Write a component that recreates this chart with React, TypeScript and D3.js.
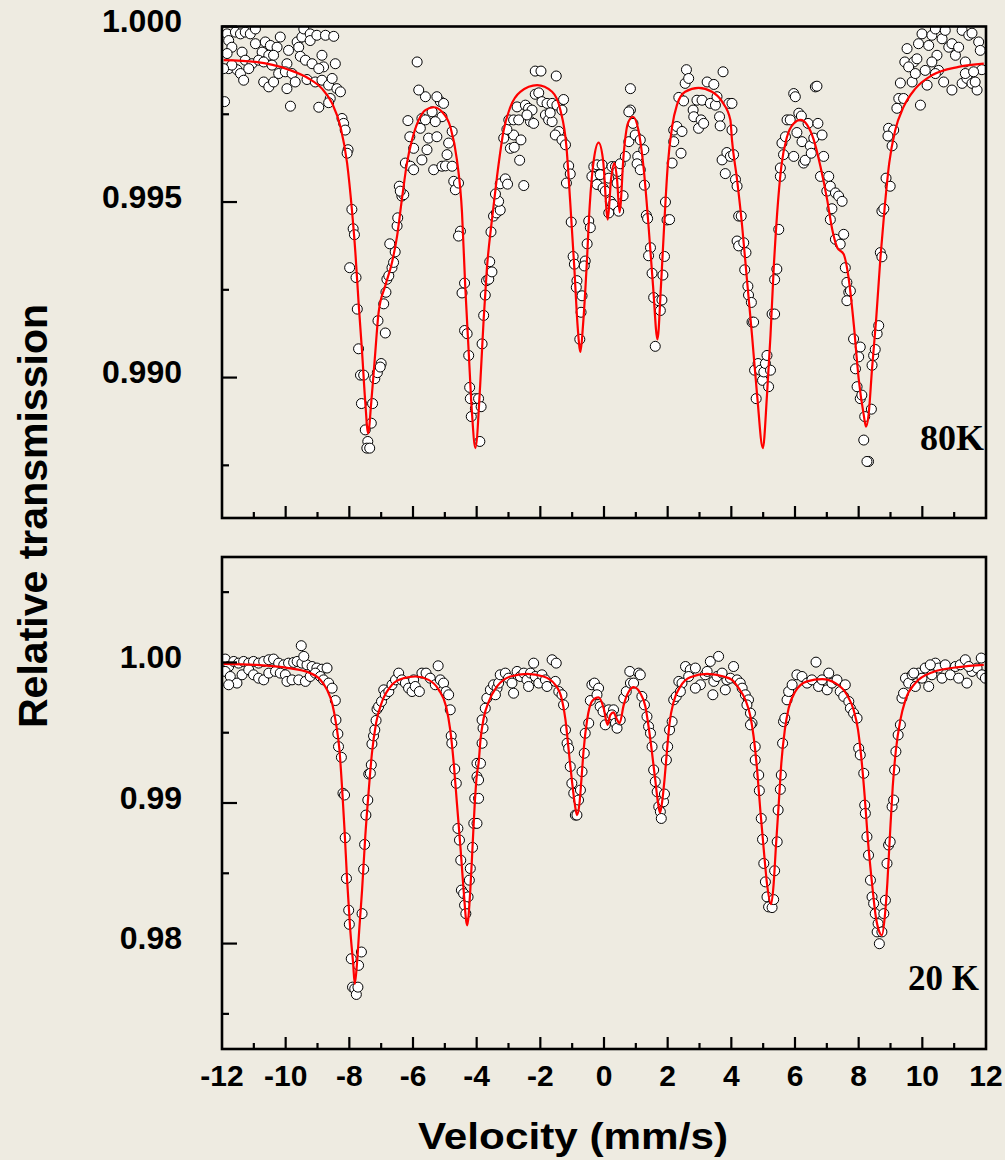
import React from 'react';
import * as d3 from 'd3';

// ---------- DATA ----------
// 80 K spectrum: measured points [velocity mm/s, relative transmission]
const points80K: [number, number][] = [
[-11.84,0.99979],[-11.58,0.99984],[-11.42,0.99979],[-11.27,0.99984],[-11.11,0.99979],[-10.95,0.99993],[-11.79,0.9996],[-11.69,0.99941],[-11.84,0.99923],[-11.37,0.99927],[-10.95,0.99951],[-10.64,0.99956],[-10.48,0.99946],[-10.27,0.99941],[-10.74,0.99927],[-10.53,0.99918],[-10.38,0.99918],[-10.17,0.9997],[-9.91,0.99932],[-9.64,0.99956],[-9.49,0.9997],[-9.43,0.99993],[-9.23,0.99979],[-9.23,0.9996],[-9.02,0.99975],[-8.75,0.99975],[-8.49,0.99972],[-9.59,0.99941],[-9.54,0.99915],[-9.38,0.99904],[-9.17,0.99894],[-8.86,0.99918],[-8.81,0.99885],[-8.96,0.9988],[-8.44,0.99894],[-11.27,0.99904],[-11.06,0.99894],[-10.85,0.99904],[-10.69,0.99899],[-10.43,0.9989],[-9.96,0.99894],[-11.79,0.9988],[-11.53,0.99877],[-11.42,0.99866],[-11.32,0.99847],[-11.16,0.9988],[-10.69,0.99842],[-10.53,0.99828],[-10.38,0.99842],[-10.22,0.99866],[-10.01,0.99871],[-9.8,0.99866],[-9.7,0.99842],[-9.96,0.99823],[-9.33,0.99849],[-9.07,0.99842],[-8.86,0.99847],[-8.65,0.99833],[-8.54,0.99852],[-8.39,0.99823],[-8.28,0.99814],[-8.6,0.99795],[-8.65,0.99783],[-8.96,0.9977],[-9.85,0.99773],[-11.92,0.99786],[-11.69,0.9989],[-11.95,0.9988],
[-8.23,0.99738],[-8.18,0.99724],[-8.13,0.99705],[-8.04,0.99649],[-8.07,0.99639],[-7.92,0.99479],[-7.88,0.99424],[-7.84,0.99407],[-7.99,0.99313],[-7.79,0.99285],[-7.75,0.99195],[-7.71,0.99082],[-7.65,0.99007],[-7.55,0.99007],[-7.62,0.98926],[-7.27,0.98926],[-7.5,0.98851],[-7.31,0.9887],[-7.42,0.98818],[-7.45,0.98799],[-7.36,0.98799],[-7.2,0.98997],[-7.12,0.99014],[-7.0,0.9904],[-7.03,0.9903],[-6.87,0.99127],[-7.1,0.99162],[-6.92,0.9921],[-6.85,0.99243],[-6.82,0.9928],[-6.76,0.9929],[-6.66,0.99313],[-6.61,0.99328],[-6.56,0.99358],[-6.73,0.99381],[-6.5,0.99432],[-6.48,0.99455],[-6.35,0.99517],[-6.29,0.99521],[-6.43,0.99545],[-6.4,0.99531],[-6.24,0.99611],[-6.08,0.99602],[-5.98,0.99592],[-6.1,0.99686],[-5.98,0.99653],[-6.16,0.99732],[-5.72,0.9962],[-5.77,0.9971],[-5.51,0.99682],[-5.56,0.99649],[-5.25,0.99686],[-5.35,0.99592],[-5.09,0.99602],[-4.98,0.99603],[-4.77,0.99602],[-4.93,0.99635],[-4.88,0.99668],[-4.77,0.99701],[-5.09,0.99743],[-5.3,0.99729],[-5.14,0.99786],[-5.04,0.99781],[-5.25,0.998],[-5.4,0.99757],[-5.61,0.998],[-5.82,0.99819],[-5.87,0.99899],[-5.72,0.99738],[-5.61,0.99734],[-4.72,0.99559],[-4.67,0.99535],[-4.57,0.99554],[-4.51,0.99417],[-4.57,0.99403],[-4.38,0.99269],[-4.46,0.99241],[-4.38,0.99134],[-4.3,0.99125],[-4.25,0.99063],[-4.22,0.98972],[-4.2,0.9894],[-4.17,0.98889],[-4.04,0.9894],[-4.04,0.98912],
[-3.94,0.9894],[-3.86,0.98917],[-3.9,0.98818],[-3.83,0.99096],[-3.78,0.99177],[-3.73,0.99235],[-3.69,0.99276],[-3.62,0.9928],[-3.59,0.9933],[-3.52,0.99301],[-3.55,0.99415],[-3.47,0.9946],[-3.38,0.99469],[-3.26,0.99477],[-3.31,0.99502],[-3.41,0.99523],[-3.26,0.99552],[-3.1,0.99566],[-3.03,0.99551],[-2.52,0.99547],[-2.65,0.99619],[-3.15,0.99682],[-2.94,0.99653],[-2.82,0.99656],[-2.84,0.99691],[-2.61,0.99677],[-3.05,0.99707],[-2.99,0.99734],[-2.84,0.99734],[-2.68,0.99734],[-2.73,0.99771],[-2.47,0.99776],[-2.37,0.99767],[-2.26,0.99762],[-2.31,0.99729],[-2.21,0.99724],[-2.42,0.99748],[-2.16,0.99807],[-2.05,0.99811],[-2.16,0.99873],[-1.98,0.99873],[-1.95,0.99786],[-1.79,0.99781],[-1.63,0.99781],[-1.48,0.99776],[-1.5,0.99859],[-1.27,0.99792],[-1.32,0.99762],[-1.84,0.99748],[-1.74,0.99734],[-1.63,0.99729],[-1.69,0.99754],[-1.42,0.99701],[-1.53,0.99691],[-1.32,0.99677],[-1.21,0.99663],[-1.11,0.99603],[-1.06,0.9958],[-1.18,0.99554],[-1.03,0.99443],[-0.97,0.99345],[-0.93,0.99323],[-0.85,0.99276],[-0.87,0.99257],[-0.69,0.99233],[-0.72,0.99186],[-0.76,0.99109],[-0.48,0.99446],[-0.43,0.99427],[-0.53,0.99381],[-0.59,0.99332],[-0.62,0.99318],[-0.38,0.99573],[-0.32,0.99601],[-0.22,0.99606],[-0.06,0.99606],[-0.12,0.99578],[-0.22,0.9955],[-0.03,0.9954],[0.04,0.99531],[0.15,0.99568],[0.2,0.99502],[0.28,0.99493],[0.15,0.99469],[0.25,0.99601],[0.36,0.99601],[0.43,0.99587],[0.41,0.99554],[0.46,0.99474],[0.6,0.99518],[0.51,0.99609],[0.67,0.9963],[0.78,0.99672],[0.83,0.99762],[0.78,0.99757],[0.83,0.99823],[0.91,0.99724],[0.98,0.99691],[1.06,0.9963],[1.04,0.99609],[1.14,0.99677],[1.14,0.99592],[1.25,0.99649],[1.27,0.99548],[1.33,0.99462],[1.37,0.99453],[1.46,0.9937],[1.4,0.99347],[1.51,0.99297],[1.56,0.99228],[1.72,0.99219],[1.77,0.99191],[1.82,0.99221],[1.61,0.99089],[1.85,0.99292],[1.9,0.99345],[1.93,0.995],[1.98,0.99449],[2.06,0.9945],[2.14,0.99611],[2.19,0.99672],[2.19,0.99705],[2.29,0.99715],[2.45,0.99701],[2.42,0.99639],[2.35,0.99798],[2.5,0.99788],[2.55,0.99838],[2.59,0.99877],[2.66,0.99852],[2.8,0.99762],[2.82,0.99743],[2.92,0.9979],[2.97,0.9971],[3.05,0.99734],[3.13,0.99724],[3.08,0.9979],[3.24,0.99842],[3.34,0.99781],[3.45,0.99835],[3.5,0.99776],[3.55,0.998],[3.74,0.99871],[3.63,0.99743],[3.65,0.99717],[3.71,0.9962],[3.81,0.99581],[3.86,0.99641],[3.92,0.99781],[3.97,0.9963],
[4.02,0.99781],[4.02,0.99705],[4.07,0.99635],[4.13,0.99564],[4.18,0.99545],[4.23,0.9946],[4.31,0.9946],[4.18,0.99389],[4.23,0.99375],[4.39,0.99384],[4.46,0.99356],[4.42,0.99307],[4.52,0.9926],[4.54,0.99235],[4.63,0.99214],[4.65,0.99158],[4.7,0.99158],[4.73,0.99021],[4.78,0.9894],[4.84,0.9904],[4.91,0.99021],[4.98,0.98992],[5.02,0.99016],[5.07,0.9904],[5.12,0.99063],[5.17,0.98974],[5.23,0.99021],[5.28,0.99181],[5.36,0.99181],[5.36,0.99279],[5.43,0.99309],[5.49,0.99422],[5.54,0.99573],[5.54,0.99597],[5.64,0.99635],[5.59,0.99668],[5.7,0.99686],[5.75,0.99734],[5.85,0.99734],[5.96,0.9963],[5.96,0.99809],[6.01,0.998],[6.06,0.99698],[6.12,0.99753],[6.2,0.99745],[6.22,0.99672],[6.27,0.99611],[6.32,0.99619],[6.41,0.99724],[6.48,0.9966],[6.51,0.99639],[6.59,0.99682],[6.64,0.99828],[6.69,0.9983],[6.72,0.99724],[6.8,0.99573],[6.85,0.99691],[6.9,0.9963],[7.0,0.99531],[7.06,0.99573],[7.11,0.99545],[7.16,0.99481],[7.11,0.9945],[7.27,0.99526],[7.37,0.99517],[7.48,0.99502],[7.27,0.99394],[7.42,0.9938],[7.53,0.99408],[7.58,0.99313],[7.63,0.99271],[7.69,0.99243],[7.74,0.99247],[7.63,0.99219],[7.84,0.9911],[8.05,0.99087],[8.0,0.99059],[7.9,0.99025],[7.95,0.98974],[8.05,0.9894],[8.1,0.9895],[8.19,0.98889],[8.16,0.98822],[8.31,0.98761],[8.26,0.98761],[8.4,0.9891],[8.42,0.99035],[8.47,0.99063],[8.52,0.9908],[8.58,0.99125],[8.63,0.99148],[8.68,0.99356],[8.73,0.99344],[8.73,0.99474],[8.79,0.99481],[8.86,0.99568],[8.99,0.99545],[9.05,0.9966],[8.94,0.9971],[9.1,0.99705],[8.92,0.99688],[9.2,0.99767],[9.26,0.99795],[9.41,0.99795],[9.31,0.99839],[9.45,0.99899],[9.52,0.99937],[9.73,0.99899],[9.57,0.99885],[9.68,0.99842],[9.78,0.99866],[9.94,0.99776],[10.15,0.99833],[9.88,0.99951],[9.99,0.99979],[10.2,0.99946],[10.3,0.99975],[10.41,0.99993],[10.62,0.99965],[10.72,0.99989],[10.83,0.99941],[10.93,0.99951],[11.04,0.99918],[11.14,0.99941],[11.25,0.99989],[11.35,0.99899],[11.46,0.99975],[11.56,0.99981],[11.77,0.99956],[11.82,0.99932],[10.93,0.99819],[10.67,0.99842],[11.25,0.99838],[11.4,0.99852],[11.56,0.99838],[11.72,0.99819],[11.66,0.99842],[11.35,0.99866],[11.87,0.99877],[11.61,0.99871],[10.46,0.99918],[10.51,0.99875],[10.3,0.99899],[10.09,0.99875],[9.83,0.99908],[10.41,0.99866]
];

// 80 K fitted curve
const fit80K: [number, number][] = [
[-11.95,0.99904],[-10.95,0.99899],[-9.9,0.99877],[-9.28,0.99852],[-8.86,0.99823],[-8.54,0.99781],[-8.28,0.99715],[-8.07,0.99611],[-7.92,0.99479],[-7.81,0.99356],[-7.71,0.99214],[-7.6,0.99073],[-7.5,0.98931],[-7.41,0.98841],[-7.31,0.98931],[-7.2,0.99054],[-7.08,0.99186],[-6.87,0.99262],[-6.66,0.99328],[-6.5,0.99403],[-6.35,0.99507],[-6.19,0.99611],[-6.03,0.99677],[-5.82,0.99734],[-5.61,0.99762],[-5.35,0.9977],[-5.09,0.99757],[-4.83,0.99715],[-4.62,0.9962],[-4.46,0.99469],[-4.36,0.99262],[-4.25,0.99073],[-4.15,0.98903],[-4.04,0.98799],[-3.89,0.98978],[-3.78,0.99167],[-3.68,0.99309],[-3.52,0.9945],[-3.36,0.99573],[-3.15,0.99705],[-2.94,0.99771],[-2.63,0.99814],[-2.1,0.99833],[-1.63,0.99814],[-1.37,0.99762],[-1.18,0.99658],[-1.06,0.99498],[-0.93,0.99309],[-0.83,0.99148],[-0.74,0.99073],[-0.66,0.99148],[-0.55,0.99309],[-0.45,0.99488],[-0.32,0.9962],[-0.17,0.99669],[-0.03,0.9962],[0.12,0.9945],[0.22,0.99564],[0.33,0.99611],[0.41,0.99564],[0.49,0.99471],[0.62,0.99639],[0.75,0.99724],[0.91,0.99743],[1.08,0.99705],[1.25,0.99592],[1.4,0.99431],[1.54,0.99262],[1.68,0.99109],[1.79,0.99262],[1.9,0.9945],[2.0,0.99601],[2.14,0.99715],[2.29,0.99776],[2.55,0.99814],[2.97,0.99825],[3.39,0.99814],[3.71,0.99786],[3.97,0.99734],[4.02,0.99677],[4.18,0.99564],[4.34,0.99431],[4.49,0.9928],[4.65,0.9912],[4.81,0.9895],[4.99,0.98799],[5.12,0.9895],[5.23,0.9912],[5.33,0.99309],[5.44,0.99469],[5.57,0.99601],[5.75,0.99686],[5.96,0.99724],[6.17,0.99734],[6.38,0.9972],[6.59,0.99677],[6.8,0.99601],[7.01,0.99507],[7.17,0.99422],[7.33,0.9937],[7.53,0.99351],[7.69,0.9928],[7.85,0.99148],[8.0,0.98997],[8.16,0.98893],[8.23,0.9886],[8.31,0.98893],[8.42,0.99025],[8.55,0.99167],[8.68,0.99337],[8.82,0.99488],[8.96,0.99611],[9.15,0.99705],[9.41,0.99771],[9.78,0.99823],[10.3,0.99861],[11.14,0.99885],[11.93,0.99894]
];

// 20 K spectrum: measured points
const points20K: [number, number][] = [
[-11.9,1.00024],[-11.79,0.99971],[-11.63,1.00007],[-11.48,0.99995],[-11.32,1.00007],[-11.16,0.99995],[-11.01,1.00007],[-10.85,0.99995],[-10.69,1.00007],[-10.53,1.00019],[-10.38,1.00024],[-10.22,0.99995],[-10.06,0.99983],[-9.91,0.99995],[-9.75,1.0],[-9.64,1.00007],[-9.49,0.99995],[-9.33,0.99983],[-9.17,0.99971],[-9.02,0.9996],[-8.86,0.99952],[-8.7,0.9996],[-9.51,1.00119],[-9.43,1.00043],[-11.9,0.99936],[-11.74,0.999],[-11.53,0.99853],[-11.79,0.99841],[-11.37,0.99912],[-11.16,0.99948],[-11.01,0.99912],[-10.85,0.99888],[-10.69,0.99876],[-10.53,0.99924],[-10.32,0.99936],[-10.17,0.99924],[-10.01,0.99912],[-9.96,0.99865],[-9.8,0.99876],[-9.59,0.99876],[-9.38,0.99865],[-9.23,0.999],[-9.07,0.99924],[-8.91,0.999],[-8.81,0.99876],[-8.65,0.99853],[-8.54,0.99817],[-8.44,0.99729],[-8.42,0.99591],[-8.36,0.99492],[-8.34,0.99401],[-8.25,0.99325],[-8.2,0.99069],[-8.15,0.99057],[-8.13,0.98753],[-8.09,0.98463],[-8.02,0.98237],[-8.0,0.98137],[-7.94,0.97892],[-7.9,0.9769],[-7.83,0.97679],[-7.78,0.97638],[-7.73,0.9769],[-7.71,0.97845],[-7.62,0.9794],[-7.6,0.98213],[-7.55,0.98529],[-7.52,0.98705],[-7.48,0.98914],[-7.42,0.99021],[-7.39,0.99206],[-7.31,0.99271],[-7.34,0.99211],[-7.29,0.9942],[-7.24,0.99477],[-7.2,0.9952],[-7.16,0.99587],[-7.13,0.99667],[-7.08,0.99686],[-6.99,0.99722],[-6.92,0.99805],[-6.87,0.9977],[-6.76,0.99793],[-6.66,0.99841],[-6.55,0.99876],[-6.45,0.99924],[-6.35,0.99876],[-6.24,0.99853],[-6.14,0.99817],[-6.03,0.99793],[-5.98,0.99876],[-5.93,0.99829],[-5.8,0.99793],[-5.72,0.99924],[-5.59,0.99924],[-5.46,0.99888],[-5.3,0.99841],[-5.21,0.99976],[-5.14,0.99876],[-5.04,0.99853],[-4.96,0.99793],[-4.88,0.9977],[-4.83,0.99663],[-4.8,0.99477],[-4.78,0.99425],[-4.69,0.99242],[-4.64,0.9914],[-4.59,0.98819],[-4.54,0.98736],[-4.5,0.98593],[-4.48,0.9838],[-4.41,0.98356],[-4.38,0.98273],[-4.34,0.98213],[-4.27,0.98332],[-4.23,0.98451],[-4.2,0.98534],[-4.13,0.98684],[-4.09,0.98855],[-4.06,0.99033],[-3.99,0.99187],[-3.99,0.99282],
[-3.99,0.98855],[-3.94,0.99033],[-3.94,0.99164],[-3.88,0.99282],[-3.83,0.99425],[-3.8,0.99532],[-3.83,0.99591],[-3.73,0.99674],[-3.68,0.99746],[-3.57,0.99805],[-3.47,0.99841],[-3.36,0.99817],[-3.31,0.99853],[-3.41,0.9977],[-3.26,0.99912],[-3.1,0.99924],[-3.0,0.99888],[-2.89,0.99853],[-2.84,0.99781],[-2.73,0.99936],[-2.63,0.999],[-2.52,0.99924],[-2.42,0.99876],[-2.31,0.99924],[-2.21,0.99995],[-2.37,0.99829],[-2.16,0.999],[-2.05,0.99853],[-1.95,0.99912],[-1.84,0.99876],[-1.79,0.99829],[-1.63,1.00019],[-1.5,0.99995],[-1.53,0.99865],[-1.42,0.99793],[-1.32,0.9977],[-1.27,0.99698],[-1.21,0.9952],[-1.16,0.99425],[-1.11,0.99389],[-1.06,0.99259],[-1.01,0.9914],[-0.95,0.99069],[-0.9,0.98914],[-0.85,0.98914],[-0.8,0.99021],[-0.74,0.99092],[-0.69,0.99223],[-0.62,0.99354],[-0.59,0.99496],[-0.48,0.99568],[-0.43,0.99729],[-0.38,0.99841],[-0.3,0.99853],[-0.17,0.99817],[-0.22,0.9977],[-0.12,0.99686],[-0.03,0.99651],[0.04,0.99556],[0.15,0.99663],[0.3,0.99663],[0.25,0.99627],[0.36,0.99568],[0.41,0.99532],[0.51,0.99591],[0.62,0.99746],[0.7,0.99793],[0.81,0.99936],[0.83,0.99853],[0.93,0.99853],[1.09,0.99924],[1.14,0.99912],[1.19,0.99758],[1.27,0.99698],[1.35,0.99615],[1.4,0.99544],[1.46,0.99496],[1.51,0.99401],[1.56,0.99235],[1.61,0.99152],[1.67,0.9908],[1.72,0.98974],[1.77,0.98938],[1.8,0.9889],[1.87,0.99009],[1.9,0.99064],[1.96,0.99306],[2.0,0.99401],[2.06,0.9952],[2.14,0.99579],[2.19,0.99734],[2.27,0.99758],[2.35,0.99865],[2.45,0.99853],[2.4,0.99793],[2.56,0.99971],[2.71,0.99948],[2.87,0.9996],[3.03,0.99841],[3.18,0.99912],[3.34,1.00007],[3.45,0.99865],[3.6,1.00043],[3.81,0.99805],[3.86,0.99876],[3.97,0.99888],[3.42,0.9977],[3.24,0.99936],[3.55,0.999],[3.71,0.99924],[2.66,0.999],[2.87,0.99817],
[4.07,0.99971],[4.18,0.99876],[4.28,0.99853],[4.34,0.99817],[4.44,0.9977],[4.54,0.99734],[4.49,0.99698],[4.6,0.99639],[4.65,0.99568],[4.6,0.99556],[4.75,0.99401],[4.75,0.99306],[4.86,0.99199],[4.88,0.99088],[4.94,0.9889],[4.98,0.98741],[5.02,0.9857],[5.07,0.98439],[5.12,0.98332],[5.17,0.98261],[5.28,0.98256],[5.33,0.98313],[5.36,0.98518],[5.44,0.98724],[5.47,0.9895],[5.54,0.99097],[5.57,0.99199],[5.61,0.99425],[5.64,0.99579],[5.68,0.99603],[5.75,0.99734],[5.8,0.99793],[5.91,0.99841],[6.06,0.99912],[6.22,0.999],[6.38,0.99853],[6.53,0.99876],[6.66,1.00002],[6.74,0.99829],[6.85,0.99876],[7.01,0.99805],[7.06,0.99924],[7.16,0.99853],[7.32,0.99876],[7.42,0.99793],[7.53,0.99758],[7.58,0.99841],[7.69,0.99722],[7.74,0.99674],[7.84,0.99639],[7.95,0.99603],[8.0,0.99389],[8.05,0.99342],[8.16,0.99211],[8.19,0.98985],[8.21,0.98926],[8.26,0.9876],[8.31,0.98629],[8.37,0.98451],[8.42,0.98332],[8.47,0.98285],[8.52,0.98213],[8.58,0.98083],[8.61,0.98142],[8.65,0.97999],[8.73,0.98083],[8.79,0.98213],[8.84,0.98308],[8.89,0.9857],[8.94,0.98701],[8.99,0.98724],[9.05,0.98974],[9.1,0.99021],[9.13,0.99235],[9.17,0.99366],[9.24,0.99484],[9.31,0.99556],[9.36,0.99746],[9.41,0.99781],[9.47,0.99888],[9.57,0.99853],[9.68,0.99912],[9.78,0.99829],[9.88,0.99924],[9.99,0.99888],[10.09,0.9996],[10.2,0.99829],[10.3,0.99912],[10.41,0.99995],[10.51,0.9996],[10.62,0.99888],[10.72,0.99983],[10.88,0.99912],[11.04,0.99971],[11.19,0.99983],[11.35,1.00019],[11.4,0.99853],[11.56,0.99936],[11.72,0.9996],[11.85,1.00031],[11.87,0.99912],[11.98,0.99888],[9.73,0.99924],[10.25,0.99983],[11.14,0.99888],[11.46,0.99971]
];

// 20 K fitted curve
const fit20K: [number, number][] = [
[-11.95,0.9999],[-10.95,0.99983],[-9.91,0.9996],[-9.28,0.99929],[-8.91,0.99876],[-8.7,0.99805],[-8.54,0.9971],[-8.42,0.99568],[-8.31,0.99377],[-8.23,0.99116],[-8.15,0.98807],[-8.07,0.98451],[-7.97,0.98094],[-7.88,0.97857],[-7.83,0.97714],[-7.76,0.97857],[-7.69,0.98094],[-7.6,0.9838],[-7.5,0.9876],[-7.39,0.99092],[-7.29,0.99354],[-7.16,0.99568],[-6.97,0.99722],[-6.66,0.99841],[-6.29,0.99888],[-5.93,0.999],[-5.51,0.99876],[-5.19,0.99805],[-4.96,0.99686],[-4.83,0.9952],[-4.72,0.99282],[-4.62,0.98997],[-4.51,0.98688],[-4.41,0.9838],[-4.3,0.9813],[-4.2,0.9838],[-4.13,0.98688],[-4.06,0.98997],[-3.99,0.99211],[-3.94,0.99282],[-3.88,0.99449],[-3.78,0.99603],[-3.62,0.99722],[-3.36,0.99829],[-2.94,0.999],[-2.42,0.99919],[-1.9,0.999],[-1.53,0.99841],[-1.32,0.99734],[-1.21,0.99591],[-1.11,0.99377],[-1.01,0.99164],[-0.92,0.98997],[-0.85,0.98914],[-0.77,0.98997],[-0.71,0.99164],[-0.64,0.99377],[-0.53,0.99591],[-0.38,0.99722],[-0.17,0.99751],[-0.01,0.99674],[0.11,0.99556],[0.2,0.99627],[0.3,0.99644],[0.39,0.99603],[0.49,0.99568],[0.62,0.99698],[0.78,0.99793],[0.93,0.99824],[1.14,0.99781],[1.3,0.99686],[1.4,0.99544],[1.51,0.99354],[1.61,0.99164],[1.7,0.98997],[1.76,0.98931],[1.82,0.98997],[1.9,0.99164],[1.98,0.99377],[2.06,0.99568],[2.19,0.99722],[2.4,0.99829],[2.71,0.99895],[3.24,0.99919],[3.76,0.999],[4.02,0.99876],[4.23,0.99817],[4.44,0.99734],[4.6,0.99615],[4.7,0.99473],[4.81,0.99235],[4.91,0.9895],[5.02,0.98665],[5.12,0.98427],[5.25,0.9828],[5.33,0.98427],[5.4,0.98688],[5.49,0.98997],[5.57,0.99282],[5.68,0.9952],[5.8,0.99674],[6.01,0.99793],[6.38,0.99865],[6.85,0.99881],[7.27,0.99853],[7.63,0.9977],[7.84,0.99663],[7.98,0.9952],[8.08,0.9933],[8.19,0.99045],[8.29,0.98736],[8.42,0.98427],[8.54,0.98189],[8.65,0.98083],[8.73,0.98059],[8.82,0.98189],[8.9,0.98427],[8.98,0.9876],[9.07,0.99116],[9.17,0.99377],[9.31,0.99591],[9.47,0.99734],[9.78,0.99853],[10.3,0.99929],[11.14,0.99967],[11.93,0.99983]
];

const xTickValues = [-12, -10, -8, -6, -4, -2, 0, 2, 4, 6, 8, 10, 12];
const xMinorValues = [-11, -9, -7, -5, -3, -1, 1, 3, 5, 7, 9, 11];
const yTopLabels = [1.0, 0.995, 0.99];
const yTopMinor = [0.9975, 0.9925, 0.9875];
const yBotLabels = [1.0, 0.99, 0.98];
const yBotMinor = [1.005, 0.995, 0.985, 0.975];
const tempTop = '80K';
const tempBot = '20 K';
const xTitle = 'Velocity (mm/s)';
const yTitle = 'Relative transmission';

// ---------- LAYOUT ----------
const W = 1005, H = 1160;
const BG = '#EEEBE1';
const SANS = '"Liberation Sans", Arial, Helvetica, sans-serif';
const SERIF = '"Liberation Serif", "Times New Roman", serif';

export default function App() {
  const x = d3.scaleLinear().domain([-12, 12]).range([222, 986]);
  const yTop = d3.scaleLinear().domain([0.986, 1.0]).range([518, 26.5]);
  const yBot = d3.scaleLinear().domain([0.9725, 1.0075]).range([1049, 557]);

  const lineTop = d3.line<[number, number]>().x(d => x(d[0])).y(d => yTop(d[1])).curve(d3.curveMonotoneX);
  const lineBot = d3.line<[number, number]>().x(d => x(d[0])).y(d => yBot(d[1])).curve(d3.curveMonotoneX);

  const panel = (
    id: string,
    y: d3.ScaleLinear<number, number>,
    pts: [number, number][],
    fitPath: string,
    majors: number[],
    minors: number[],
    fmt: (v: number) => string,
    showXLabels: boolean,
  ) => {
    const [yb, yt] = y.range();
    const xl = x.range()[0], xr = x.range()[1];
    return (
      <g key={id}>
        <defs>
          <clipPath id={`clip-${id}`}>
            <rect x={xl} y={yt} width={xr - xl} height={yb - yt} />
          </clipPath>
        </defs>
        <g clipPath={`url(#clip-${id})`}>
          {pts.map((d, i) => (
            <circle key={i} cx={x(d[0])} cy={y(d[1])} r={5} fill="#fff" stroke="#000" strokeWidth={1} />
          ))}
          <path d={fitPath} fill="none" stroke="#ff0000" strokeWidth={2.2} />
        </g>
        <rect x={xl} y={yt} width={xr - xl} height={yb - yt} fill="none" stroke="#000" strokeWidth={2.6} />
        {xTickValues.slice(1, -1).map(v => (
          <line key={'xM' + v} x1={x(v)} x2={x(v)} y1={yb} y2={yb - 12} stroke="#000" strokeWidth={2.2} />
        ))}
        {xMinorValues.map(v => (
          <line key={'xm' + v} x1={x(v)} x2={x(v)} y1={yb} y2={yb - 6} stroke="#000" strokeWidth={2.2} />
        ))}
        {majors.map(v => (
          <g key={'yM' + v}>
            <line x1={xl} x2={xl + 15} y1={y(v)} y2={y(v)} stroke="#000" strokeWidth={2.2} />
            <text x={182} y={y(v) + 5.5} textAnchor="end" fontFamily={SANS} fontWeight="bold" fontSize={32} fill="#000">
              {fmt(v)}
            </text>
          </g>
        ))}
        {minors.map(v => (
          <line key={'ym' + v} x1={xl} x2={xl + 7} y1={y(v)} y2={y(v)} stroke="#000" strokeWidth={2.2} />
        ))}
        {showXLabels &&
          xTickValues.map(v => (
            <text key={'xl' + v} x={x(v)} y={yb + 37} textAnchor="middle" fontFamily={SANS} fontWeight="bold" fontSize={30} fill="#000">
              {String(v)}
            </text>
          ))}
      </g>
    );
  };

  return (
    <svg width={W} height={H} viewBox={`0 0 ${W} ${H}`} style={{ position: 'absolute', left: 0, top: 0, display: 'block' }}>
      <rect x={0} y={0} width={W} height={H} fill={BG} />
      {panel('top', yTop, points80K, lineTop(fit80K) || '', yTopLabels, yTopMinor, d3.format('.3f'), false)}
      {panel('bot', yBot, points20K, lineBot(fit20K) || '', yBotLabels, yBotMinor, d3.format('.2f'), true)}
      <text x={984} y={450} textAnchor="end" fontFamily={SERIF} fontWeight="bold" fontSize={36} fill="#000">{tempTop}</text>
      <text x={979} y={990} textAnchor="end" fontFamily={SERIF} fontWeight="bold" fontSize={35} fill="#000">{tempBot}</text>
      <text x={573} y={1149} textAnchor="middle" fontFamily={SANS} fontWeight="bold" fontSize={37} textLength={310} lengthAdjust="spacingAndGlyphs" fill="#000">{xTitle}</text>
      <text transform="translate(47,516) rotate(-90)" textAnchor="middle" fontFamily={SANS} fontWeight="bold" fontSize={40} textLength={424} lengthAdjust="spacingAndGlyphs" fill="#000">{yTitle}</text>
    </svg>
  );
}
